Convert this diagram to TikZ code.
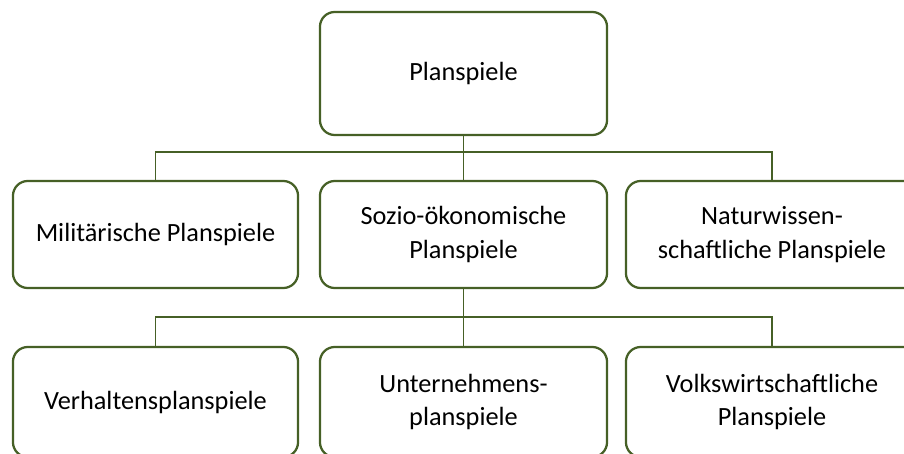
\documentclass[tikz,border=0pt]{standalone}
\usepackage{fontspec}
\setmainfont{Carlito}
\definecolor{olive}{RGB}{70,96,38}
\tikzset{
  box/.style={draw=olive, line width=1.6pt, rounded corners=10.5pt, fill=white,
    minimum height=2.675cm, align=center, inner sep=0pt,
    font=\fontsize{18.7}{24}\selectfont},
  link/.style={draw=olive, line width=0.95pt}
}
\begin{document}
\begin{tikzpicture}[x=0.025cm, y=-0.025cm]
  \useasboundingbox (0,0) rectangle (904,454);
  \node[box, minimum width=7.175cm, minimum height=3.075cm] (plan) at (463.5,73.5) {Planspiele};
  \node[box, minimum width=7.125cm] (mil) at (155.5,234.5) {Milit\"arische Planspiele};
  \node[box, minimum width=7.175cm] (soz) at (463.5,234.5) {Sozio-\"okonomische\\Planspiele};
  \node[box, minimum width=7.3cm] (nat) at (772,234.5) {Naturwissen-\\schaftliche Planspiele};
  \node[box, minimum width=7.125cm, minimum height=2.75cm] (verh) at (155.5,402) {Verhaltensplanspiele};
  \node[box, minimum width=7.175cm, minimum height=2.75cm] (unt) at (463.5,402) {Unternehmens-\\planspiele};
  \node[box, minimum width=7.3cm, minimum height=2.75cm] (volk) at (772,402) {Volkswirtschaftliche\\Planspiele};
  \coordinate (j1) at (463,152);
  \coordinate (j2) at (463,317);
  \draw[link] (plan) -- (soz);
  \draw[link] (mil.north) |- (j1) -| (nat.north);
  \draw[link] (soz) -- (unt);
  \draw[link] (verh.north) |- (j2) -| (volk.north);
\end{tikzpicture}
\end{document}
